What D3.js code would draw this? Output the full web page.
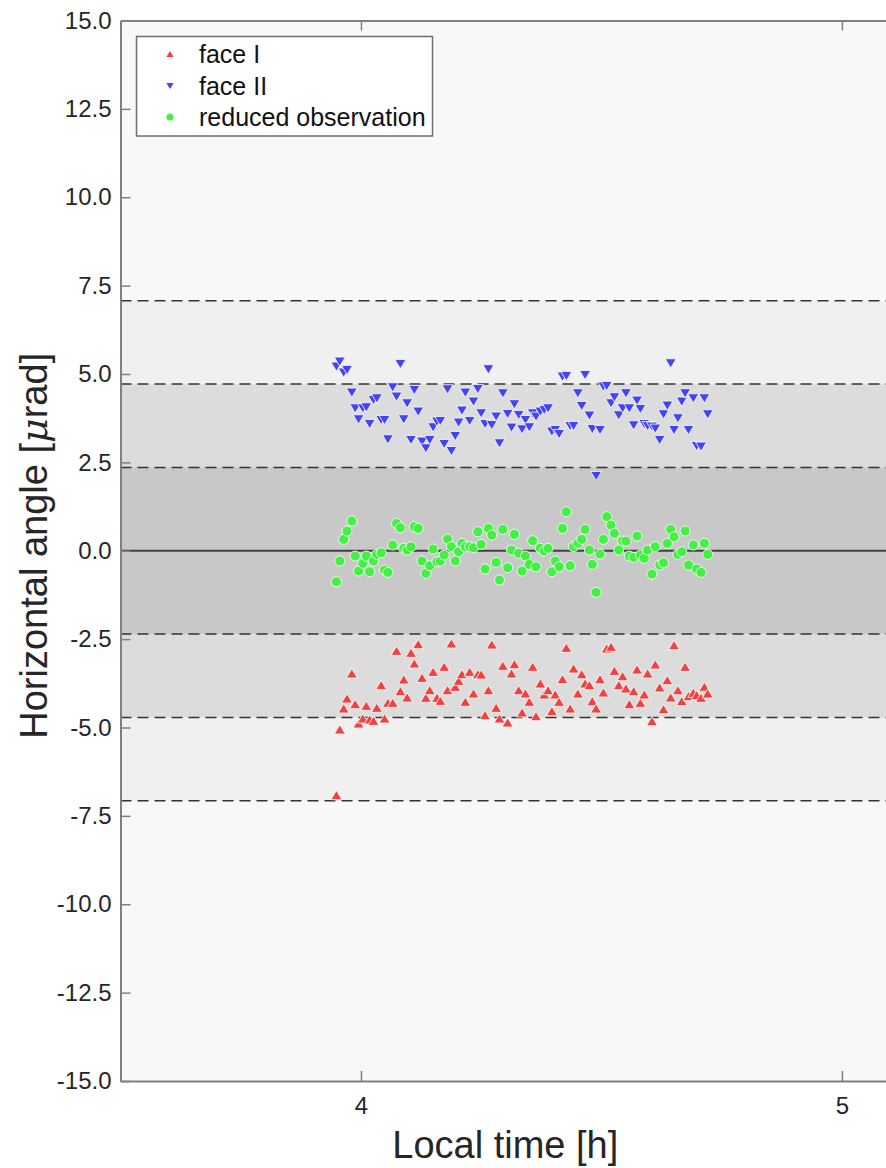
<!DOCTYPE html>
<html>
<head>
<meta charset="utf-8">
<script src="https://cdn.jsdelivr.net/npm/d3@7"></script>
<style>
  html, body { margin: 0; padding: 0; background: #ffffff; }
  svg { display: block; font-family: "Liberation Sans", Arial, Helvetica, sans-serif; }
</style>
</head>
<body>
<svg id="chart" width="886" height="1168"></svg>
<script>
// Observation epochs (local time, hours)
const hours = [
  3.949, 3.956, 3.964, 3.971, 3.981, 3.988, 3.995, 4.004, 4.011, 4.018,
  4.026, 4.033, 4.042, 4.049, 4.056, 4.066, 4.074, 4.082, 4.089, 4.096,
  4.104, 4.111, 4.119, 4.127, 4.135, 4.143, 4.150, 4.158, 4.165, 4.173,
  4.180, 4.188, 4.196, 4.203, 4.210, 4.217, 4.226, 4.234, 4.243, 4.250,
  4.258, 4.265, 4.272, 4.281, 4.288, 4.295, 4.305, 4.313, 4.319, 4.328,
  4.335, 4.342, 4.350, 4.357, 4.364, 4.373, 4.381, 4.389, 4.397, 4.404,
  4.412, 4.419, 4.427, 4.435, 4.442, 4.451, 4.459, 4.466, 4.475, 4.481,
  4.489, 4.497, 4.504, 4.511, 4.520, 4.527, 4.536, 4.544, 4.551, 4.558,
  4.567, 4.574, 4.581, 4.589, 4.596, 4.605, 4.612, 4.621, 4.629, 4.637,
  4.644, 4.651, 4.659, 4.667, 4.674, 4.681, 4.691, 4.698, 4.707, 4.714,
  4.721
];

// Horizontal angle, face I (µrad)
const faceI = [
  -6.911, -5.053, -4.459, -4.176, -3.469, -4.337, -4.884, -4.742, -4.384, -4.770,
  -4.808, -4.440, -3.799, -4.742, -4.299, -4.299, -2.828, -3.969, -3.639, -4.148,
  -2.884, -3.186, -2.639, -3.592, -4.157, -3.941, -3.422, -4.157, -4.242, -3.280,
  -3.941, -2.620, -3.846, -3.677, -3.488, -4.271, -3.422, -4.035, -3.488, -3.497,
  -4.648, -3.941, -2.649, -4.440, -4.742, -3.252, -4.855, -3.469, -3.205, -3.941,
  -4.572, -4.035, -4.271, -3.280, -4.676, -3.752, -4.063, -3.941, -4.535, -4.063,
  -4.271, -3.629, -2.743, -4.459, -3.328, -4.035, -3.488, -3.752, -3.799, -4.252,
  -4.459, -3.629, -4.007, -2.762, -2.715, -3.394, -3.799, -3.545, -3.893, -4.337,
  -3.969, -3.356, -4.299, -4.063, -3.469, -4.818, -3.215, -3.865, -4.478, -3.658,
  -4.148, -2.668, -3.941, -4.252, -3.280, -4.110, -4.016, -4.082, -4.157, -3.846,
  -4.035
];

// Horizontal angle, face II (µrad)
const faceII = [
  5.206, 5.348, 5.036, 5.112, 4.471, 4.027, 3.716, 4.027, 4.056, 3.584,
  4.263, 4.310, 3.697, 3.697, 3.150, 4.621, 4.357, 5.281, 3.716, 4.169,
  3.132, 4.546, 3.933, 3.084, 2.896, 3.132, 3.490, 3.650, 3.669, 3.018,
  4.565, 2.820, 3.245, 3.622, 3.961, 4.471, 3.669, 4.216, 4.574, 3.886,
  3.584, 5.131, 3.556, 3.792, 3.037, 4.452, 3.867, 3.480, 4.141, 3.839,
  3.433, 3.697, 3.490, 3.886, 3.792, 3.933, 3.980, 4.027, 3.367, 3.414,
  3.301, 4.923, 4.942, 3.528, 3.528, 4.452, 4.093, 4.970, 3.820, 3.443,
  2.113, 3.414, 4.640, 4.659, 4.169, 4.339, 3.829, 4.027, 4.452, 4.027,
  3.546, 4.244, 4.008, 3.584, 3.528, 3.509, 3.452, 3.132, 3.858, 4.103,
  5.300, 3.414, 3.744, 4.216, 4.452, 3.414, 4.310, 2.962, 2.943, 4.310,
  3.858
];

// Reduced observation (µrad)
const reduced = [
  -0.876, -0.291, 0.322, 0.557, 0.840, -0.150, -0.574, -0.357, -0.150, -0.593,
  -0.291, -0.103, -0.056, -0.546, -0.612, 0.161, 0.774, 0.652, 0.067, 0.020,
  0.114, 0.680, 0.633, -0.291, -0.640, -0.423, 0.048, -0.310, -0.291, -0.122,
  0.331, 0.114, -0.291, -0.027, 0.208, 0.114, 0.114, 0.086, 0.538, 0.180,
  -0.518, 0.633, 0.444, -0.329, -0.829, 0.604, -0.480, 0.020, 0.463, -0.074,
  -0.574, -0.150, -0.386, 0.284, -0.452, 0.067, -0.008, 0.067, -0.593, -0.291,
  -0.452, 0.633, 1.104, -0.423, 0.114, 0.208, 0.322, 0.604, 0.020, -0.386,
  -1.178, -0.093, 0.322, 0.963, 0.727, 0.491, 0.020, 0.274, 0.274, -0.150,
  -0.188, 0.416, -0.122, -0.216, 0.020, -0.659, 0.114, -0.405, -0.339, 0.208,
  0.604, 0.397, -0.103, -0.027, 0.557, -0.405, 0.161, -0.518, -0.612, 0.208,
  -0.103
];

// Confidence band limits: 1, 2 and 3 sigma (µrad)
const sigmaLimits = [2.357, 4.714, 7.071];
const bandFills = ["#c8c8c8", "#dcdcdc", "#f0f0f0"];

// Axis ticks
const xTicks = [4, 5];
const yTicks = [-15, -12.5, -10, -7.5, -5, -2.5, 0, 2.5, 5, 7.5, 10, 12.5, 15];

const seriesNames = ["face I", "face II", "reduced observation"];
const seriesColors = ["#f24141", "#4444f2", "#44f044"];

const svg = d3.select("#chart");
const plotLeft = 120.5, plotRight = 890, plotTop = 20.5, plotBottom = 1081;

const x = d3.scaleLinear().domain([3.5, 5.1]).range([plotLeft, plotRight]);
const y = d3.scaleLinear().domain([-15, 15]).range([plotBottom, plotTop]);

// Plot background
svg.append("rect")
  .attr("x", plotLeft).attr("y", plotTop)
  .attr("width", plotRight - plotLeft).attr("height", plotBottom - plotTop)
  .attr("fill", "#f8f8f8");

// Sigma bands, widest first
const bands = svg.append("g");
[2, 1, 0].forEach(i => {
  bands.append("rect")
    .attr("x", plotLeft)
    .attr("y", y(sigmaLimits[i]))
    .attr("width", plotRight - plotLeft)
    .attr("height", y(-sigmaLimits[i]) - y(sigmaLimits[i]))
    .attr("fill", bandFills[i]);
});

// Dashed limit lines
const limitLines = svg.append("g");
sigmaLimits.forEach(s => {
  [s, -s].forEach(v => {
    limitLines.append("line")
      .attr("x1", plotLeft).attr("x2", plotRight)
      .attr("y1", y(v)).attr("y2", y(v))
      .attr("stroke", "#333333")
      .attr("stroke-width", 1.5)
      .attr("stroke-dasharray", "11,6");
  });
});

// Zero line
svg.append("line")
  .attr("x1", plotLeft).attr("x2", plotRight)
  .attr("y1", y(0)).attr("y2", y(0))
  .attr("stroke", "#404040")
  .attr("stroke-width", 2);

// Marker shapes
function triangleSymbol(up) {
  return {
    draw(ctx, size) {
      const w = Math.sqrt(size);
      const hw = w / 2, hh = w * 0.42;
      if (up) {
        ctx.moveTo(0, -hh); ctx.lineTo(hw, hh); ctx.lineTo(-hw, hh); ctx.closePath();
      } else {
        ctx.moveTo(0, hh); ctx.lineTo(hw, -hh); ctx.lineTo(-hw, -hh); ctx.closePath();
      }
    }
  };
}
const symbolTypes = [triangleSymbol(true), triangleSymbol(false), d3.symbolCircle];
const symbolSizes = [121, 121, 80];

const seriesValues = [faceI, faceII, reduced];
seriesValues.forEach((vals, si) => {
  const gen = d3.symbol().type(symbolTypes[si]).size(symbolSizes[si]);
  svg.append("g")
    .selectAll("path")
    .data(hours.map((h, i) => [h, vals[i]]))
    .join("path")
    .attr("transform", d => `translate(${x(d[0])},${y(d[1])})`)
    .attr("d", gen())
    .attr("fill", seriesColors[si])
    .attr("stroke", "#ffffff")
    .attr("stroke-width", 0.8);
});

// Axes
const axisColor = "#808080";
const textColor = "#262626";

const xAxis = svg.append("g")
  .attr("transform", `translate(0,${plotBottom})`)
  .call(d3.axisBottom(x).tickValues(xTicks).tickFormat(d3.format("d"))
    .tickSizeInner(-10).tickSizeOuter(0).tickPadding(16));
const xTop = svg.append("g")
  .attr("transform", `translate(0,${plotTop})`)
  .call(d3.axisTop(x).tickValues(xTicks).tickFormat("")
    .tickSizeInner(-10).tickSizeOuter(0));
const yAxis = svg.append("g")
  .attr("transform", `translate(${plotLeft},0)`)
  .call(d3.axisLeft(y).tickValues(yTicks).tickFormat(d3.format(".1f"))
    .tickSizeInner(-10).tickSizeOuter(0).tickPadding(9));

[xAxis, xTop, yAxis].forEach(g => {
  g.select(".domain").attr("stroke", axisColor).attr("stroke-width", 2);
  g.selectAll(".tick line").attr("stroke", axisColor).attr("stroke-width", 1.5);
  g.selectAll(".tick text")
    .attr("fill", textColor)
    .style("font-size", "24px")
    .style("font-family", "'Liberation Sans', Arial, sans-serif");
});
yAxis.selectAll(".tick text").text(d => d3.format(".1f")(d).replace("−", "-"));

// Axis titles
svg.append("text")
  .attr("x", (plotLeft + plotRight) / 2)
  .attr("y", 1158)
  .attr("text-anchor", "middle")
  .attr("fill", textColor)
  .style("font-size", "38px")
  .text("Local time [h]");

const yTitle = svg.append("text")
  .attr("transform", `translate(47,${(plotTop + plotBottom) / 2 - 5}) rotate(-90)`)
  .attr("text-anchor", "middle")
  .attr("fill", textColor)
  .style("font-size", "38px");
yTitle.append("tspan").text("Horizontal angle [");
yTitle.append("tspan").style("font-style", "italic").style("font-family", "'DejaVu Serif', serif").text("μ");
yTitle.append("tspan").text("rad]");

// Legend
const legend = svg.append("g");
legend.append("rect")
  .attr("x", 136.5).attr("y", 36.5)
  .attr("width", 296).attr("height", 99.5)
  .attr("fill", "#ffffff")
  .attr("stroke", "#6e6e6e")
  .attr("stroke-width", 1.5);
const legendRowY = [54, 86, 117];
seriesNames.forEach((name, i) => {
  const gen = d3.symbol().type(symbolTypes[i]).size(i === 2 ? 40 : 52);
  legend.append("path")
    .attr("transform", `translate(170,${legendRowY[i]})`)
    .attr("d", gen())
    .attr("fill", seriesColors[i]);
  legend.append("text")
    .attr("x", 199)
    .attr("y", legendRowY[i] + 9)
    .attr("fill", "#111111")
    .style("font-size", "25px")
    .text(name);
});
</script>
</body>
</html>
